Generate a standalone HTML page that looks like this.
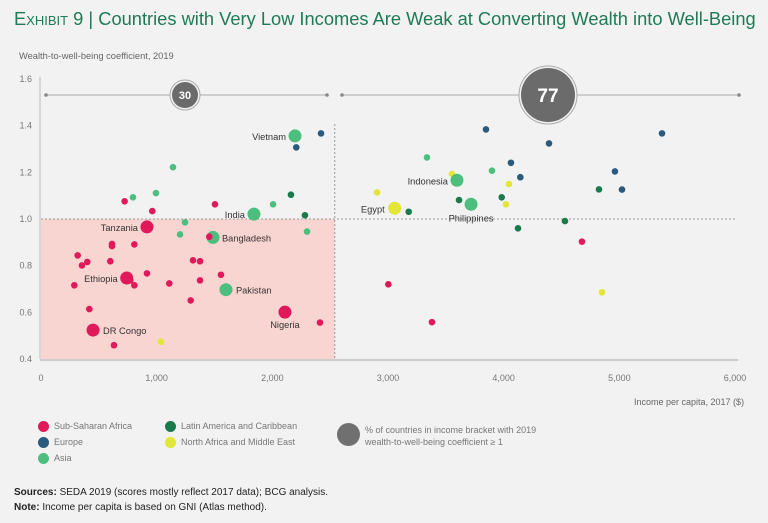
<!DOCTYPE html>
<html><head><meta charset="utf-8"><style>
body{margin:0;background:#f2f2f2;font-family:"Liberation Sans",sans-serif;}
#wrap{position:relative;width:768px;height:523px;overflow:hidden;background:#f2f2f2;}
.t{position:absolute;white-space:nowrap;}
</style></head><body>
<div id="wrap">
<div class="t" style="left:14px;top:8px;font-size:18.3px;color:#1f7a55;"><span style="font-variant:small-caps;">Exhibit 9</span> | Countries with Very Low Incomes Are Weak at Converting Wealth into Well-Being</div>
<div class="t" style="left:19px;top:51px;font-size:9.3px;color:#666;">Wealth-to-well-being coefficient, 2019</div>
<svg id="plot" width="768" height="523" style="position:absolute;left:0;top:0"></svg>
<div class="t" style="left:634px;top:397px;font-size:9px;color:#666;">Income per capita, 2017 ($)</div>
<div>
<div class="t" style="left:38px;top:421px;font-size:9px;color:#777;"><span style="display:inline-block;width:11px;height:11px;border-radius:50%;background:#e0195a;vertical-align:middle;margin-right:5px"></span>Sub-Saharan Africa</div>
<div class="t" style="left:38px;top:437px;font-size:9px;color:#777;"><span style="display:inline-block;width:11px;height:11px;border-radius:50%;background:#2a5a7e;vertical-align:middle;margin-right:5px"></span>Europe</div>
<div class="t" style="left:38px;top:453px;font-size:9px;color:#777;"><span style="display:inline-block;width:11px;height:11px;border-radius:50%;background:#4cbf7e;vertical-align:middle;margin-right:5px"></span>Asia</div>
<div class="t" style="left:165px;top:421px;font-size:9px;color:#777;"><span style="display:inline-block;width:11px;height:11px;border-radius:50%;background:#197a4c;vertical-align:middle;margin-right:5px"></span>Latin America and Caribbean</div>
<div class="t" style="left:165px;top:437px;font-size:9px;color:#777;"><span style="display:inline-block;width:11px;height:11px;border-radius:50%;background:#e3e636;vertical-align:middle;margin-right:5px"></span>North Africa and Middle East</div>
<div class="t" style="left:337px;top:424px;font-size:9px;color:#777;line-height:12px;"><span style="display:inline-block;width:23px;height:23px;border-radius:50%;background:#707070;vertical-align:middle;margin-right:5px;float:left;margin-top:-1px"></span>% of countries in income bracket with 2019<br>wealth-to-well-being coefficient ≥ 1</div>
</div>
<div class="t" style="left:14px;top:487px;font-size:10px;color:#222;"><b>Sources:</b> SEDA 2019 (scores mostly reflect 2017 data); BCG analysis.</div>
<div class="t" style="left:14px;top:502px;font-size:10px;color:#222;"><b>Note:</b> Income per capita is based on GNI (Atlas method).</div>
</div>
<script>
const incomes=[2196,2421,2207,1141,795,994,723,962,1504,2006,1841,2161,2282,2300,1245,1202,916,1487,1455,614,614,807,317,354,400,599,1314,1375,741,772,807,916,288,1109,1375,1556,1599,1294,418,2109,2412,450,1037,631,
3847,5369,4392,3337,4063,3899,4962,3553,3596,4144,4046,2905,4824,5023,3614,3718,3983,4020,3058,3179,4530,4124,4677,3003,4850,3380];
const coefs=[1.356,1.367,1.307,1.222,1.093,1.111,1.076,1.034,1.063,1.063,1.021,1.104,1.016,0.946,0.986,0.934,0.966,0.921,0.924,0.893,0.884,0.891,0.844,0.801,0.816,0.819,0.823,0.819,0.747,0.737,0.716,0.767,0.716,0.724,0.737,0.761,0.697,0.651,0.614,0.601,0.556,0.524,0.474,0.459,
1.384,1.367,1.324,1.264,1.241,1.207,1.204,1.193,1.166,1.179,1.150,1.114,1.127,1.126,1.081,1.063,1.093,1.063,1.046,1.031,0.991,0.960,0.903,0.720,0.686,0.558];
const regions=["A","E","E","A","A","A","S","S","S","A","A","L","L","A","A","A","S","A","S","S","S","S","S","S","S","S","S","S","S","S","S","S","S","S","S","S","A","S","S","S","S","S","M","S",
"E","E","E","A","E","A","E","M","A","E","M","M","L","E","L","A","L","M","M","L","L","L","S","S","M","S"];
const labels=["Vietnam","","","","","","","","","","India","","","","","","Tanzania","Bangladesh","","","","","","","","","","","Ethiopia","","","","","","","","Pakistan","","","Nigeria","","DR Congo","","",
"","","","","","","","","Indonesia","","","","","","","Philippines","","","Egypt","","","","","","",""];
const xTicks=[0,1000,2000,3000,4000,5000,6000];
const yTicks=[0.4,0.6,0.8,1.0,1.2,1.4,1.6];
const brackets=[30,77];
const colors={S:"#e0195a",E:"#2a5a7e",A:"#4cbf7e",L:"#197a4c",M:"#e3e636"};
const X=v=>41+v*(694/6000), Y=v=>359-(v-0.4)*(280/1.2);
const svg=document.getElementById('plot');const NS="http://www.w3.org/2000/svg";
function mk(t,a,p){const e=document.createElementNS(NS,t);for(const k in a)e.setAttribute(k,a[k]);(p||svg).appendChild(e);return e;}
let e;
e=mk('rect',{x:X(0),y:Y(1.0),width:X(2540)-X(0),height:Y(0.4)-Y(1.0),fill:'#f9d5d2'});


e=mk('line',{x1:X(0),x2:X(6000),y1:Y(1.0),y2:Y(1.0),stroke:'#999','stroke-dasharray':'2,2','stroke-width':1});


e=mk('line',{x1:X(2540),x2:X(2540),y1:124,y2:Y(0.4),stroke:'#999','stroke-dasharray':'2,2','stroke-width':1});


e=mk('line',{x1:40,x2:40,y1:77,y2:Y(0.4),stroke:'#bbb'});


e=mk('line',{x1:40,x2:738,y1:Y(0.4)+1,y2:Y(0.4)+1,stroke:'#ccc','stroke-width':2});


yTicks.forEach(v=>{const t=mk('text',{x:32,y:Y(v)+3,'text-anchor':'end','font-size':9,fill:'#777','font-family':'Liberation Sans'});t.textContent=v.toFixed(1);

});
xTicks.forEach(v=>{const t=mk('text',{x:X(v),y:381,'text-anchor':'middle','font-size':9,fill:'#777','font-family':'Liberation Sans'});t.textContent=v==0?'0':v.toLocaleString('en-US');

});
[[46,327,185,13],[342,739,548,27]].forEach((b,i)=>{
 const g=mk('g',{});
 
 
 mk('line',{x1:b[0],x2:b[1],y1:95,y2:95,stroke:'#aaa'},g);
 mk('circle',{cx:b[0],cy:95,r:1.8,fill:'#888'},g);mk('circle',{cx:b[1],cy:95,r:1.8,fill:'#888'},g);
 mk('circle',{cx:b[2],cy:95,r:b[3]+2,fill:'#f2f2f2',stroke:'#aaa'},g);
 mk('circle',{cx:b[2],cy:95,r:b[3],fill:'#6b6b6b'},g);
 const t=mk('text',{x:b[2],y:95+(i?7:4),'text-anchor':'middle','font-size':i?19:11,'font-weight':'bold',fill:'#fff','font-family':'Liberation Sans'},g);t.textContent=brackets[i];
});
incomes.forEach((v,i)=>{
 const big=labels[i]!=='';
 const c=mk('circle',{cx:X(v),cy:Y(coefs[i]),r:big?6.5:3.3,fill:colors[regions[i]]});
 
 
});
const lp={"Vietnam":[-9,4,'end'],"India":[-9,4,'end'],"Tanzania":[-9,4,'end'],"Bangladesh":[9,4,'start'],"Ethiopia":[-9,4,'end'],"Pakistan":[10,4,'start'],"Nigeria":[0,16,'middle'],"DR Congo":[10,4,'start'],"Indonesia":[-9,4,'end'],"Philippines":[0,17,'middle'],"Egypt":[-10,4,'end']};
labels.forEach((l,i)=>{if(!l)return;const p=lp[l];
 const t=mk('text',{x:X(incomes[i])+p[0],y:Y(coefs[i])+p[1],'text-anchor':p[2],'font-size':9.3,fill:'#333','font-family':'Liberation Sans'});t.textContent=l;
 
 });
</script>
</body></html>
